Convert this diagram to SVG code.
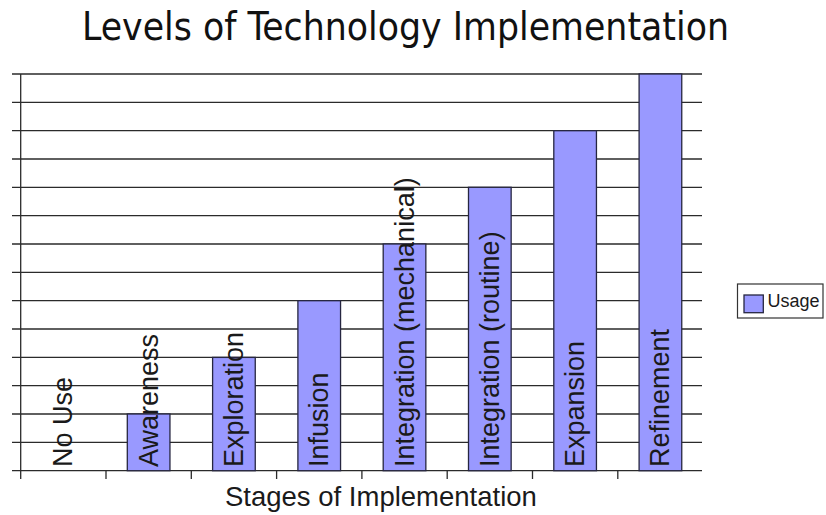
<svg xmlns="http://www.w3.org/2000/svg" width="826" height="515" viewBox="0 0 826 515">
  <style>
    .grid { stroke: #2b2b2b; stroke-width: 1.3; fill: none; }
    .bar { fill: #9999ff; stroke: #262640; stroke-width: 1.3; }
    .lbl { font-family: "Liberation Sans", Arial, sans-serif; font-size: 27px; fill: #1a1a1a; }
    .title { font-family: "DejaVu Sans Condensed", "DejaVu Sans", sans-serif; font-size: 38.5px; fill: #111; }
    .axt { font-family: "Liberation Sans", Arial, sans-serif; font-size: 27.5px; fill: #1a1a1a; }
    .leg { font-family: "Liberation Sans", Arial, sans-serif; font-size: 18px; fill: #1a1a1a; }
  </style>
  <rect width="826" height="515" fill="#ffffff"/>
  <text id="title" class="title" x="82" y="40" textLength="647" lengthAdjust="spacingAndGlyphs">Levels of Technology Implementation</text>

  <g id="grid">
    <path class="grid" d="M12 74H702 M12 102.3H702 M12 130.7H702 M12 159H702 M12 187.3H702 M12 215.7H702 M12 244H702 M12 272.4H702 M12 300.7H702 M12 329H702 M12 357.4H702 M12 385.7H702 M12 414H702 M12 442.4H702 M12 470.7H702"/>
    <path class="grid" d="M20.7 74V479 M106 470.7V479 M191.3 470.7V479 M276.6 470.7V479 M361.9 470.7V479 M447.2 470.7V479 M532.5 470.7V479 M617.8 470.7V479"/>
  </g>

  <g id="bar-awareness"><rect class="bar" x="127.3" y="414" width="42.65" height="56.7"/></g>
  <g id="bar-exploration"><rect class="bar" x="212.6" y="357.4" width="42.65" height="113.3"/></g>
  <g id="bar-infusion"><rect class="bar" x="297.9" y="300.7" width="42.65" height="170"/></g>
  <g id="bar-integration-mechanical"><rect class="bar" x="383.2" y="244" width="42.65" height="226.7"/></g>
  <g id="bar-integration-routine"><rect class="bar" x="468.5" y="187.3" width="42.65" height="283.4"/></g>
  <g id="bar-expansion"><rect class="bar" x="553.8" y="130.7" width="42.65" height="340"/></g>
  <g id="bar-refinement"><rect class="bar" x="639.1" y="74" width="42.65" height="396.7"/></g>

  <g id="labels">
    <text class="lbl" transform="translate(72.3 467) rotate(-90)">No Use</text>
    <text class="lbl" transform="translate(157.6 467) rotate(-90)">Awareness</text>
    <text class="lbl" transform="translate(242.9 467) rotate(-90)">Exploration</text>
    <text class="lbl" transform="translate(328.2 467) rotate(-90)">Infusion</text>
    <text class="lbl" transform="translate(413.5 467) rotate(-90)">Integration (mechanical)</text>
    <text class="lbl" transform="translate(498.8 467) rotate(-90)">Integration (routine)</text>
    <text class="lbl" transform="translate(584.1 467) rotate(-90)">Expansion</text>
    <text class="lbl" transform="translate(669.4 467) rotate(-90)">Refinement</text>
  </g>

  <text id="x-axis-title" class="axt" x="225" y="506">Stages of Implementation</text>

  <g id="legend">
    <rect x="737.5" y="284" width="85.5" height="34" fill="#ffffff" stroke="#333333" stroke-width="1.2"/>
    <rect class="bar" x="744" y="295" width="19.3" height="17.7"/>
    <text class="leg" x="767.5" y="307">Usage</text>
  </g>
</svg>
